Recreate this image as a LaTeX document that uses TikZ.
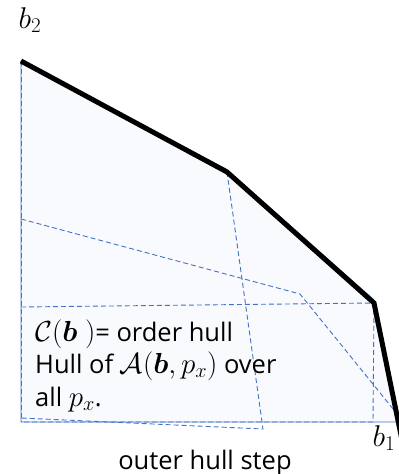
\RequirePackage{fix-cm}
\documentclass[tikz,border=0pt]{standalone}
\usepackage{amsmath, amssymb}
\usepackage{fontspec}
\setmainfont{Open Sans}
\usetikzlibrary{positioning}
\definecolor{HullBlue}{RGB}{68, 114, 196}
\definecolor{HullFill}{RGB}{248, 250, 253}
\newcommand{\hullmath}[1]{{\fontsize{29}{32.5}\selectfont$#1$}}

\begin{document}
\begin{tikzpicture}[x=1pt, y=-1pt, font=\fontsize{25.5}{32.5}\selectfont,
    guide/.style={HullBlue, line width=0.9pt, dash pattern=on 5pt off 3pt},
    frontier/.style={line width=5pt, line join=miter},
    axislabel/.style={font=\fontsize{30}{32}\selectfont}]
    \useasboundingbox (0,0) rectangle (399,474);

    % Corners of the order hull
    \coordinate (top) at (21,61);
    \coordinate (kinkA) at (227,172);
    \coordinate (kinkB) at (374,303);
    \coordinate (corner) at (399,422);
    \coordinate (origin) at (21,422);

    % Shaded hull
    \draw[HullBlue, fill=HullFill, line width=0.8pt] (top) -- (226,169) -- (373,299) -- (corner) -- (origin) -- cycle;

    % Inner hulls
    \draw[guide] (top) -- (origin);
    \draw[guide] (21,307) -- (kinkB) -- (373,422) -- (origin);
    \draw[guide] (21,219) -- (300,294) -- (398,415);
    \draw[guide] (kinkA) -- (263,429) -- (21,418);

    % Outer frontier
    \draw[frontier] (top) -- (kinkA) -- (kinkB) -- (402,440);

    % Labels
    \node (btwo) [axislabel] at (30,20) {$b_2$};
    \node (bone) [axislabel] at (384,438) {$b_1$};
    \node (note) [anchor=base west, align=left, inner sep=0pt] at (35,406)
        {\hullmath{\mathcal{C}(\boldsymbol{b}\ )}= order hull\\
         Hull of \hullmath{\mathcal{A}(\boldsymbol{b},p_x)} over\\
         all \hullmath{p_x}.};
    \node (step) [anchor=base, inner sep=0pt] at (205,469) {outer hull step};
\end{tikzpicture}
\end{document}
